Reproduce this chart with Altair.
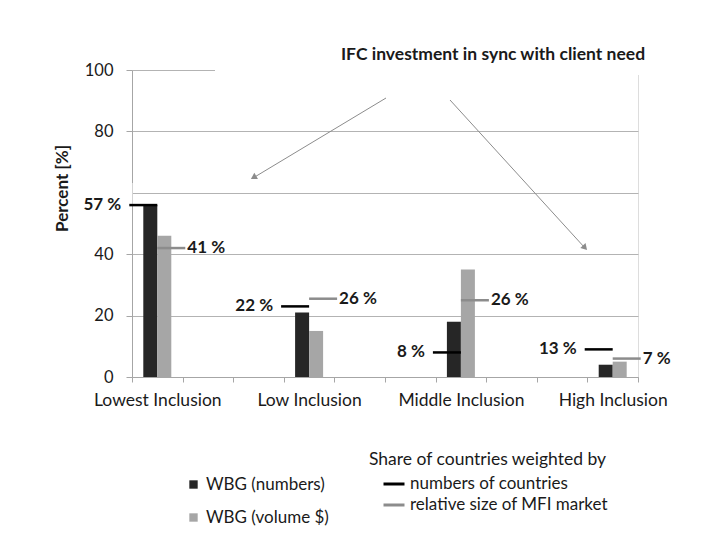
import altair as alt
import pandas as pd

# ---------------- data ----------------
categories = ["Lowest Inclusion", "Low Inclusion", "Middle Inclusion", "High Inclusion"]
series_names = ["WBG (numbers)", "WBG (volume $)"]
wbg_numbers = [56, 21, 18, 4]
wbg_volume = [46, 15, 35, 5]

marker_names = ["numbers of countries", "relative size of MFI market"]
share_countries = [56, 23, 8, 9]
share_countries_labels = ["57 %", "22 %", "8 %", "13 %"]
share_market = [42, 25.5, 25, 6]
share_market_labels = ["41 %", "26 %", "26 %", "7 %"]

y_ticks = [0, 20, 40, 60, 80, 100]
title_text = "IFC investment in sync with client need"
legend2_title = "Share of countries weighted by"

# x axis has 10 equal slots (Excel-style), categories sit in every third slot
x_slots = [categories[0], " ", "  ", categories[1], "   ", "    ",
           categories[2], "     ", "      ", categories[3]]

bars_df = pd.DataFrame({
    "category": categories * 2,
    "series": [series_names[0]] * 4 + [series_names[1]] * 4,
    "value": wbg_numbers + wbg_volume,
})
countries_df = pd.DataFrame({"category": categories, "value": share_countries,
                             "label": share_countries_labels, "measure": marker_names[0]})
market_df = pd.DataFrame({"category": categories, "value": share_market,
                          "label": share_market_labels, "measure": marker_names[1]})

FONT = "Lato"
TXT = "#1a1a1a"
AXC = "#a6a6a6"

x_enc = alt.X("category:N",
              scale=alt.Scale(domain=x_slots, paddingInner=0, paddingOuter=0),
              axis=alt.Axis(title=None, labelAngle=0, labelFont=FONT, labelFontSize=17.5,
                            labelColor=TXT, labelPadding=9, tickBand="extent", tickSize=5,
                            tickColor=AXC, domainColor=AXC, grid=False, labelLimit=0))
y_enc = alt.Y("value:Q",
              scale=alt.Scale(domain=[0, 100], nice=False),
              axis=alt.Axis(values=y_ticks, title="Percent [%]", titleFont=FONT,
                            titleFontSize=17, titleFontWeight="bold", titleColor=TXT,
                            titleX=-70, titleY=118, titleAngle=270, titleAlign="center",
                            titleBaseline="middle", labelFont=FONT, labelFontSize=16.5,
                            labelColor=TXT, labelPadding=13, tickSize=6, tickColor=AXC,
                            domainColor=AXC, gridColor="#b3b3b3",
                            labelExpr="datum.value == 60 ? '' : datum.label"))

bars = alt.Chart(bars_df).mark_bar().encode(
    x=x_enc,
    xOffset=alt.XOffset("series:N", scale=alt.Scale(domain=series_names, paddingInner=0,
                                                     paddingOuter=0.807)),
    y=y_enc,
    color=alt.Color("series:N",
                    scale=alt.Scale(domain=series_names, range=["#262626", "#a6a6a6"]),
                    legend=alt.Legend(title=None, orient="none", legendX=53, legendY=406,
                                      symbolType="square", symbolSize=70,
                                      labelFont=FONT, labelFontSize=17, labelColor=TXT,
                                      labelOffset=4, rowPadding=15, padding=0,
                                      labelLimit=0)),
)

stroke_scale = alt.Scale(domain=marker_names, range=["#000000", "#8c8c8c"])
stroke_legend = alt.Legend(title=None, orient="none", legendX=250, legendY=402,
                           symbolType="stroke", symbolSize=441, symbolStrokeWidth=3,
                           labelFont=FONT, labelFontSize=17, labelColor=TXT,
                           labelOffset=4, rowPadding=1, padding=0, labelLimit=0)

m_countries = alt.Chart(countries_df).mark_rule(strokeWidth=2.5, xOffset=-28, x2Offset=0).encode(
    x=x_enc, x2=alt.X2("category:N"), y=y_enc,
    stroke=alt.Stroke("measure:N", scale=stroke_scale, legend=stroke_legend))
m_market = alt.Chart(market_df).mark_rule(strokeWidth=2.5, xOffset=0, x2Offset=28).encode(
    x=x_enc, x2=alt.X2("category:N"), y=y_enc,
    stroke=alt.Stroke("measure:N", scale=stroke_scale, legend=stroke_legend))

t_countries = alt.Chart(countries_df).mark_text(
    align="right", baseline="middle", xOffset=-36, font=FONT, fontSize=17,
    fontWeight="bold", color=TXT).encode(x=x_enc, y=y_enc, text="label:N")
t_market = alt.Chart(market_df).mark_text(
    align="left", baseline="middle", xOffset=30, font=FONT, fontSize=17,
    fontWeight="bold", color=TXT).encode(x=x_enc, y=y_enc, text="label:N")

one = pd.DataFrame({"t": [title_text]})
# white boxes from the slide's text boxes covering parts of the axis / top gridline
cover_axis = alt.Chart(one).mark_rect(color="white").encode(
    x=alt.value(-50), x2=alt.value(0.5), y=alt.value(113), y2=alt.value(134))
cover_top = alt.Chart(one).mark_rect(color="white").encode(
    x=alt.value(83), x2=alt.value(515), y=alt.value(-5), y2=alt.value(5))

title = alt.Chart(one).mark_text(font=FONT, fontSize=17.5, fontWeight="bold", color=TXT,
                                 align="center", baseline="middle").encode(
    x=alt.value(361), y=alt.value(-15), text="t:N")

leg2_title = alt.Chart(pd.DataFrame({"t": [legend2_title]})).mark_text(
    font=FONT, fontSize=17.5, color=TXT, align="left", baseline="middle").encode(
    x=alt.value(237), y=alt.value(390), text="t:N")

ARC = "#8c8c8c"
arrow1 = alt.Chart(one).mark_rule(color=ARC, strokeWidth=1).encode(
    x=alt.value(254), y=alt.value(28), x2=alt.value(121), y2=alt.value(108))
head1 = alt.Chart(one).mark_point(shape="triangle", filled=True, size=50, angle=239,
                                  color=ARC, opacity=1).encode(
    x=alt.value(122.4), y=alt.value(106.9))
arrow2 = alt.Chart(one).mark_rule(color=ARC, strokeWidth=1).encode(
    x=alt.value(318), y=alt.value(30), x2=alt.value(453), y2=alt.value(178))
head2 = alt.Chart(one).mark_point(shape="triangle", filled=True, size=50, angle=137.6,
                                  color=ARC, opacity=1).encode(
    x=alt.value(452.3), y=alt.value(177))

chart = alt.layer(
    bars, cover_axis, cover_top, m_countries, m_market, t_countries, t_market,
    title, leg2_title, arrow1, head1, arrow2, head2
).properties(
    width=506, height=307,
    padding={"left": 124, "top": 62, "right": 74, "bottom": 154},
    autosize=alt.AutoSizeParams(type="none"),
).configure_view(stroke=None).configure(background="white")

chart.save("out.html", embed_options={"renderer": "svg", "actions": False})
